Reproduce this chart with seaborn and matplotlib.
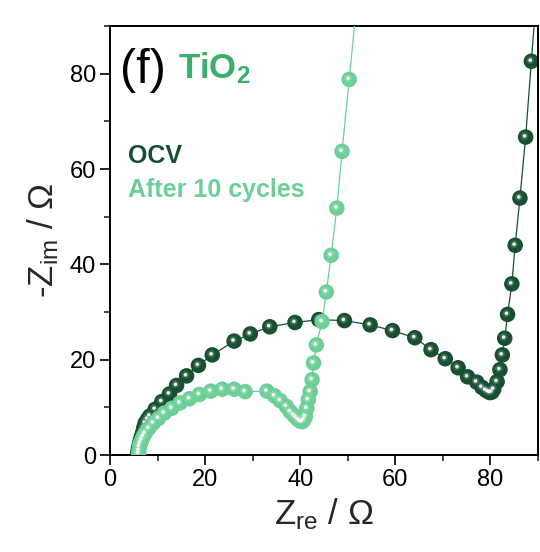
import numpy as np
import pandas as pd
import matplotlib
matplotlib.use("Agg")
import matplotlib.pyplot as plt
import matplotlib.transforms as mtransforms
import seaborn as sns

# ---- data ----
ocv_x = [5.8, 5.9, 6.0, 6.2, 6.4, 6.6, 6.9, 7.1, 7.4, 7.9, 8.4, 9.5, 10.9, 12.5, 14.0, 16.1, 18.6,
         21.5, 26.1, 29.5, 33.6, 38.9, 43.9, 49.3, 54.7, 59.4, 64.1, 67.5, 70.5, 73.2, 75.2, 77.1,
         78.2, 79.0, 79.5, 79.9, 80.3, 80.7, 81.4, 82.0, 82.5, 83.0, 83.6, 84.5, 85.2, 86.2, 87.4,
         88.6, 89.8]
ocv_y = [0.2, 0.8, 1.5, 2.3, 3.1, 3.9, 4.8, 5.7, 6.7, 7.5, 8.2, 9.6, 11.2, 12.8, 14.6, 16.6, 18.8,
         21.0, 23.9, 25.4, 26.9, 27.8, 28.4, 28.2, 27.3, 26.1, 24.6, 22.1, 20.2, 18.3, 16.4, 15.3,
         14.2, 13.6, 13.3, 13.1, 13.2, 13.8, 15.4, 17.9, 21.0, 24.5, 29.5, 35.9, 44.0, 53.9, 66.7,
         82.6, 98.0]
cyc_x = [6.0, 6.1, 6.2, 6.4, 6.7, 7.0, 7.4, 8.2, 9.1, 10.2, 11.4, 13.0, 14.7, 16.7, 18.8, 21.2,
         23.6, 26.1, 28.4, 33.0, 34.6, 35.8, 37.1, 37.9, 38.6, 39.1, 39.6, 40.0, 40.4, 40.8, 41.1,
         41.4, 41.7, 42.1, 42.5, 42.8, 43.4, 44.6, 45.5, 46.5, 47.7, 48.8, 50.3, 52.0]
cyc_y = [0.3, 1.0, 1.8, 2.5, 3.2, 3.9, 4.6, 5.6, 6.7, 7.7, 8.8, 9.8, 10.9, 11.8, 12.7, 13.4,
         13.8, 13.8, 13.3, 13.4, 12.4, 11.4, 10.2, 9.1, 8.4, 7.9, 7.4, 7.1, 7.0, 7.4, 8.1,
         9.8, 11.6, 13.3, 15.8, 19.3, 23.1, 28.0, 34.2, 41.9, 51.8, 63.7, 78.8, 96.0]
series_names = ["OCV", "After 10 cycles"]
x_ticks = [0, 20, 40, 60, 80]
y_ticks = [0, 20, 40, 60, 80]

DARK = "#174f31"
LIGHT = "#6dcf98"
MID = "#3aae6b"

df = pd.concat([
    pd.DataFrame({"x": ocv_x, "y": ocv_y, "s": series_names[0], "o": range(len(ocv_x))}),
    pd.DataFrame({"x": cyc_x, "y": cyc_y, "s": series_names[1], "o": range(len(cyc_x))}),
], ignore_index=True)

sns.set_theme(style="ticks")
plt.rcParams["font.family"] = ["Liberation Sans", "DejaVu Sans"]
plt.rcParams["mathtext.default"] = "regular"

fig = plt.figure(figsize=(5.4, 5.52), dpi=100)
ax = fig.add_axes([0.2037, 0.1757, 0.7926, 0.7772])

pal = {series_names[0]: DARK, series_names[1]: LIGHT}
hl_off = mtransforms.offset_copy(ax.transData, fig=fig, x=-0.8, y=0.8, units="points")
for name, z in [(series_names[0], 2), (series_names[1], 4)]:
    sub = df[df["s"] == name]
    sns.lineplot(data=sub, x="x", y="y", sort=False, estimator=None, color=pal[name],
                 lw=0.9, ax=ax, zorder=z)
    sns.scatterplot(data=sub, x="x", y="y", color=pal[name], s=125, edgecolor="none",
                    linewidth=0, ax=ax, zorder=z + 0.1, legend=False)
    # sphere-like highlight
    base = np.array(matplotlib.colors.to_rgb(pal[name]))
    mid = base + (1 - base) * 0.35
    ax.scatter(sub["x"], sub["y"], s=30, color=mid, edgecolor="none", alpha=0.45,
               transform=hl_off, zorder=z + 0.2)
    ax.scatter(sub["x"], sub["y"], s=7, color="white", edgecolor="none", alpha=0.9,
               transform=hl_off, zorder=z + 0.3)

ax.set_xlim(0, 90)
ax.set_ylim(0, 90)
ax.set_xticks(x_ticks)
ax.set_yticks(y_ticks)
ax.set_xticks([10, 30, 50, 70, 90], minor=True)
ax.set_yticks([10, 30, 50, 70, 90], minor=True)
ax.tick_params(which="major", direction="out", length=7, width=1.2, labelsize=17,
               colors="black", pad=3)
ax.tick_params(which="minor", direction="out", length=4, width=1.2)
for sp in ax.spines.values():
    sp.set_visible(True)
    sp.set_linewidth(1.4)
    sp.set_color("black")

ax.set_xlabel("Z$_{re}$ / Ω", fontsize=25, labelpad=4)
ax.set_ylabel("-Z$_{im}$ / Ω", fontsize=25, labelpad=6)

ax.text(0.023, 0.867, "(f)", transform=ax.transAxes, fontsize=35, va="baseline", ha="left",
        color="black")
ax.text(0.159, 0.879, "TiO$_2$", transform=ax.transAxes, fontsize=25, fontweight="bold",
        va="baseline", ha="left", color=MID)
ax.text(0.042, 0.681, series_names[0], transform=ax.transAxes, fontsize=18, fontweight="bold",
        va="baseline", ha="left", color=DARK)
ax.text(0.042, 0.601, series_names[1], transform=ax.transAxes, fontsize=18, fontweight="bold",
        va="baseline", ha="left", color=LIGHT)

fig.savefig("out.png", dpi=100)
